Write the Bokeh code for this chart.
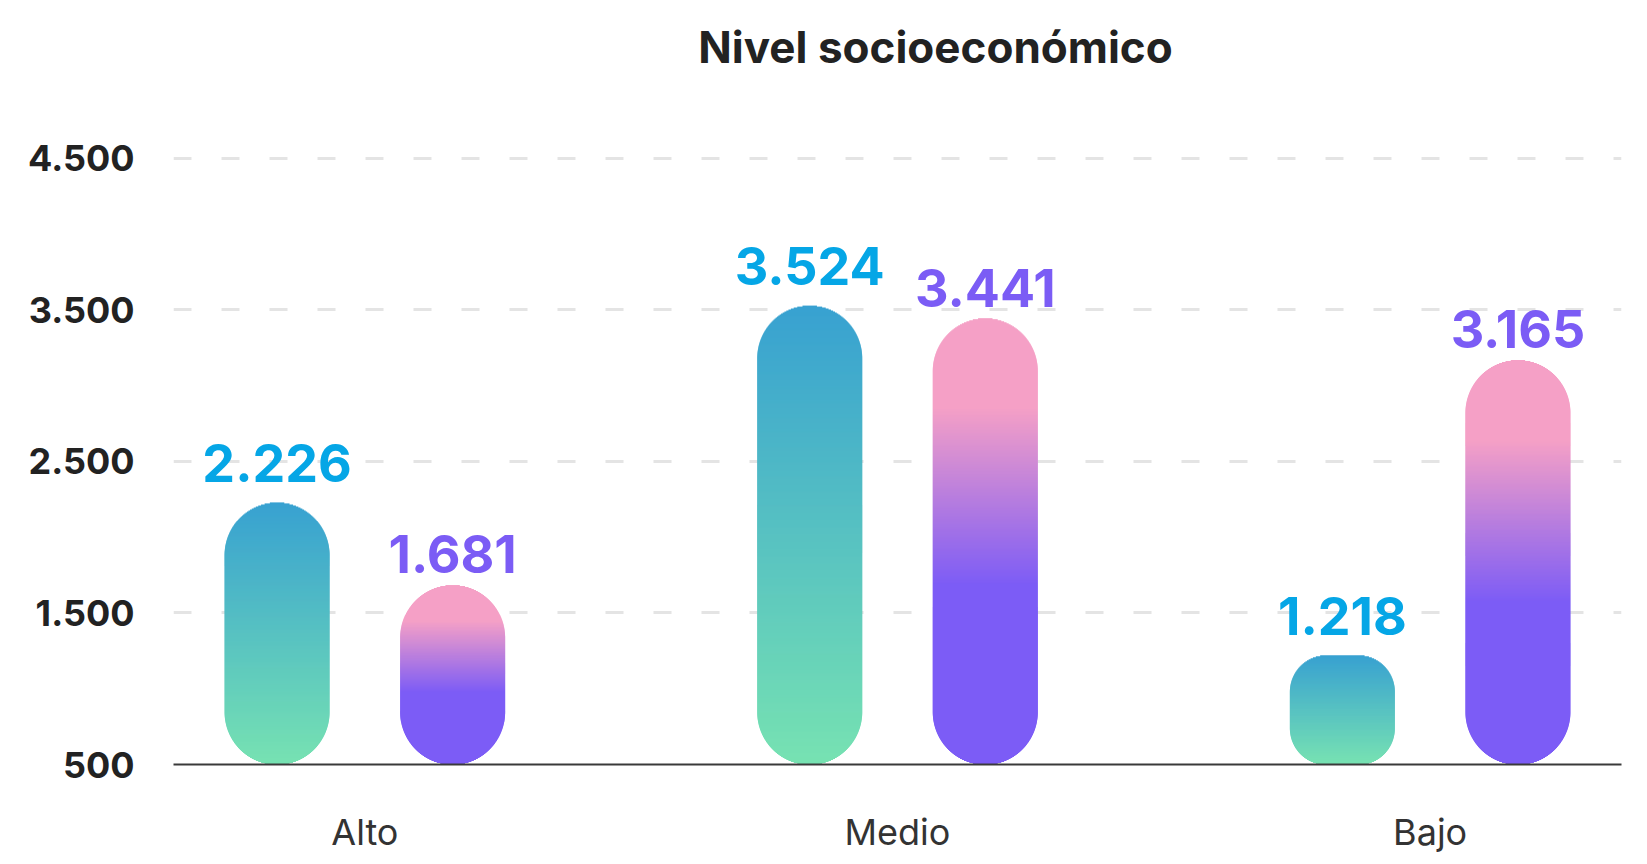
import numpy as np
from bokeh.plotting import figure
from bokeh.models import FactorRange, Range1d, FixedTicker, ColumnDataSource, Label
from bokeh.transform import dodge
from bokeh.core.properties import value
from bokeh.embed import file_html
from bokeh.resources import INLINE

# ---------------- data ----------------
categories = ["Alto", "Medio", "Bajo"]
serie_azul = [2226, 3524, 1218]
serie_morada = [1681, 3441, 3165]
y_ticks = [500, 1500, 2500, 3500, 4500]
y_tick_labels = ["500", "1.500", "2.500", "3.500", "4.500"]
title_text = "Nivel socioeconómico"

# ---------------- layout ----------------
W, H = 1647, 864
FRAME_L, FRAME_R, FRAME_T, FRAME_B = 173, 1621, 0, 764
Y0 = 500
PPU = 606.5 / 4000.0                       # px per data unit
Y_END = Y0 + (FRAME_B - FRAME_T) / PPU
BAR_W = 105.0
OFFSET = 0.3296
STEP = 1.0

blue_stops = [(0.0, (56, 161, 209)), (1.0, (119, 226, 178))]
purple_stops = [(0.0, (245, 160, 198)), (0.2, (245, 160, 198)),
                (0.6, (124, 92, 246)), (1.0, (124, 92, 246))]


def grad(stops, t):
    for (t0, c0), (t1, c1) in zip(stops[:-1], stops[1:]):
        if t <= t1:
            f = 0 if t1 == t0 else (t - t0) / (t1 - t0)
            f = min(max(f, 0), 1)
            c = [round(a + (b - a) * f) for a, b in zip(c0, c1)]
            return "#%02x%02x%02x" % tuple(c)
    return "#%02x%02x%02x" % stops[-1][1]


def slices(vals, stops):
    cat, ys, ws, hs, cs = [], [], [], [], []
    for c, v in zip(categories, vals):
        h = (v - Y0) * PPU
        R = min(BAR_W / 2, h / 3)
        n = int(np.ceil(h / STEP))
        step = h / n
        for k in range(n):
            s = (k + 0.5) * step
            if s < R:
                d = R - s
                hw = BAR_W / 2 - R + np.sqrt(max(R * R - d * d, 0))
            elif s > h - R:
                d = s - (h - R)
                hw = BAR_W / 2 - R + np.sqrt(max(R * R - d * d, 0))
            else:
                hw = BAR_W / 2
            cat.append(c)
            ys.append(v - s / PPU)
            ws.append(2 * hw)
            hs.append(step + 0.8)
            cs.append(grad(stops, s / h))
    return ColumnDataSource(dict(cat=cat, y=ys, w=ws, h=hs, color=cs))


p = figure(width=W, height=H,
           x_range=FactorRange(factors=categories, factor_padding=1.0, range_padding=0.0874),
           y_range=Range1d(Y0, Y_END),
           output_backend="svg", toolbar_location=None,
           min_border_left=FRAME_L, min_border_right=W - FRAME_R,
           min_border_top=FRAME_T, min_border_bottom=H - FRAME_B)

p.background_fill_color = "white"
p.border_fill_color = "white"
p.outline_line_color = None

for vals, stops, off in [(serie_azul, blue_stops, -OFFSET), (serie_morada, purple_stops, OFFSET)]:
    src = slices(vals, stops)
    p.rect(x=dodge("cat", off, range=p.x_range), y="y", width="w", height="h",
           width_units="screen", height_units="screen",
           fill_color="color", line_color=None, source=src)

lab_blue = ColumnDataSource(dict(cat=categories, val=serie_azul,
                                 txt=[f"{v:,}".replace(",", ".") for v in serie_azul]))
lab_purple = ColumnDataSource(dict(cat=categories, val=serie_morada,
                                   txt=[f"{v:,}".replace(",", ".") for v in serie_morada]))
p.text(x=dodge("cat", -OFFSET, range=p.x_range), y="val", text="txt", source=lab_blue,
       text_font=value("Inter"), text_font_style="bold", text_font_size="52px",
       text_color="#05A6E6", text_align="center", text_baseline="alphabetic", y_offset=-40)
p.text(x=dodge("cat", OFFSET, range=p.x_range), y="val", text="txt", source=lab_purple,
       text_font=value("Inter"), text_font_style="bold", text_font_size="52px",
       text_color="#7B5CF5", text_align="center", text_baseline="alphabetic", y_offset=-31)

p.add_layout(Label(x=935 - FRAME_L, y=FRAME_B - 46, x_units="screen", y_units="screen",
                   text=title_text, text_font="Inter", text_font_style="bold",
                   text_font_size="44px", text_color="#222222",
                   text_align="center", text_baseline="middle"))

# axes
yax = p.yaxis[0]
yax.ticker = FixedTicker(ticks=y_ticks)
yax.major_label_overrides = {t: l for t, l in zip(y_ticks, y_tick_labels)}
yax.major_label_text_font = "Inter"
yax.major_label_text_font_style = "bold"
yax.major_label_text_font_size = "36px"
yax.major_label_text_color = "#222222"
yax.major_label_standoff = 39
yax.major_tick_in = 0
yax.major_tick_out = 0
yax.minor_tick_line_color = None
yax.major_tick_line_color = None
yax.axis_line_color = None

xax = p.xaxis[0]
xax.major_label_text_font = "Inter"
xax.major_label_text_font_size = "36px"
xax.major_label_text_color = "#333333"
xax.major_label_standoff = 45
xax.major_tick_in = 0
xax.major_tick_out = 0
xax.major_tick_line_color = None
xax.axis_line_color = "#3a3a3a"
xax.axis_line_width = 2

p.xgrid.visible = False
p.ygrid.ticker = FixedTicker(ticks=y_ticks)
p.ygrid.grid_line_color = "#E4E4E4"
p.ygrid.grid_line_width = 3
p.ygrid.grid_line_dash = "18 30"

open("out.html", "w").write(file_html(p, INLINE))
